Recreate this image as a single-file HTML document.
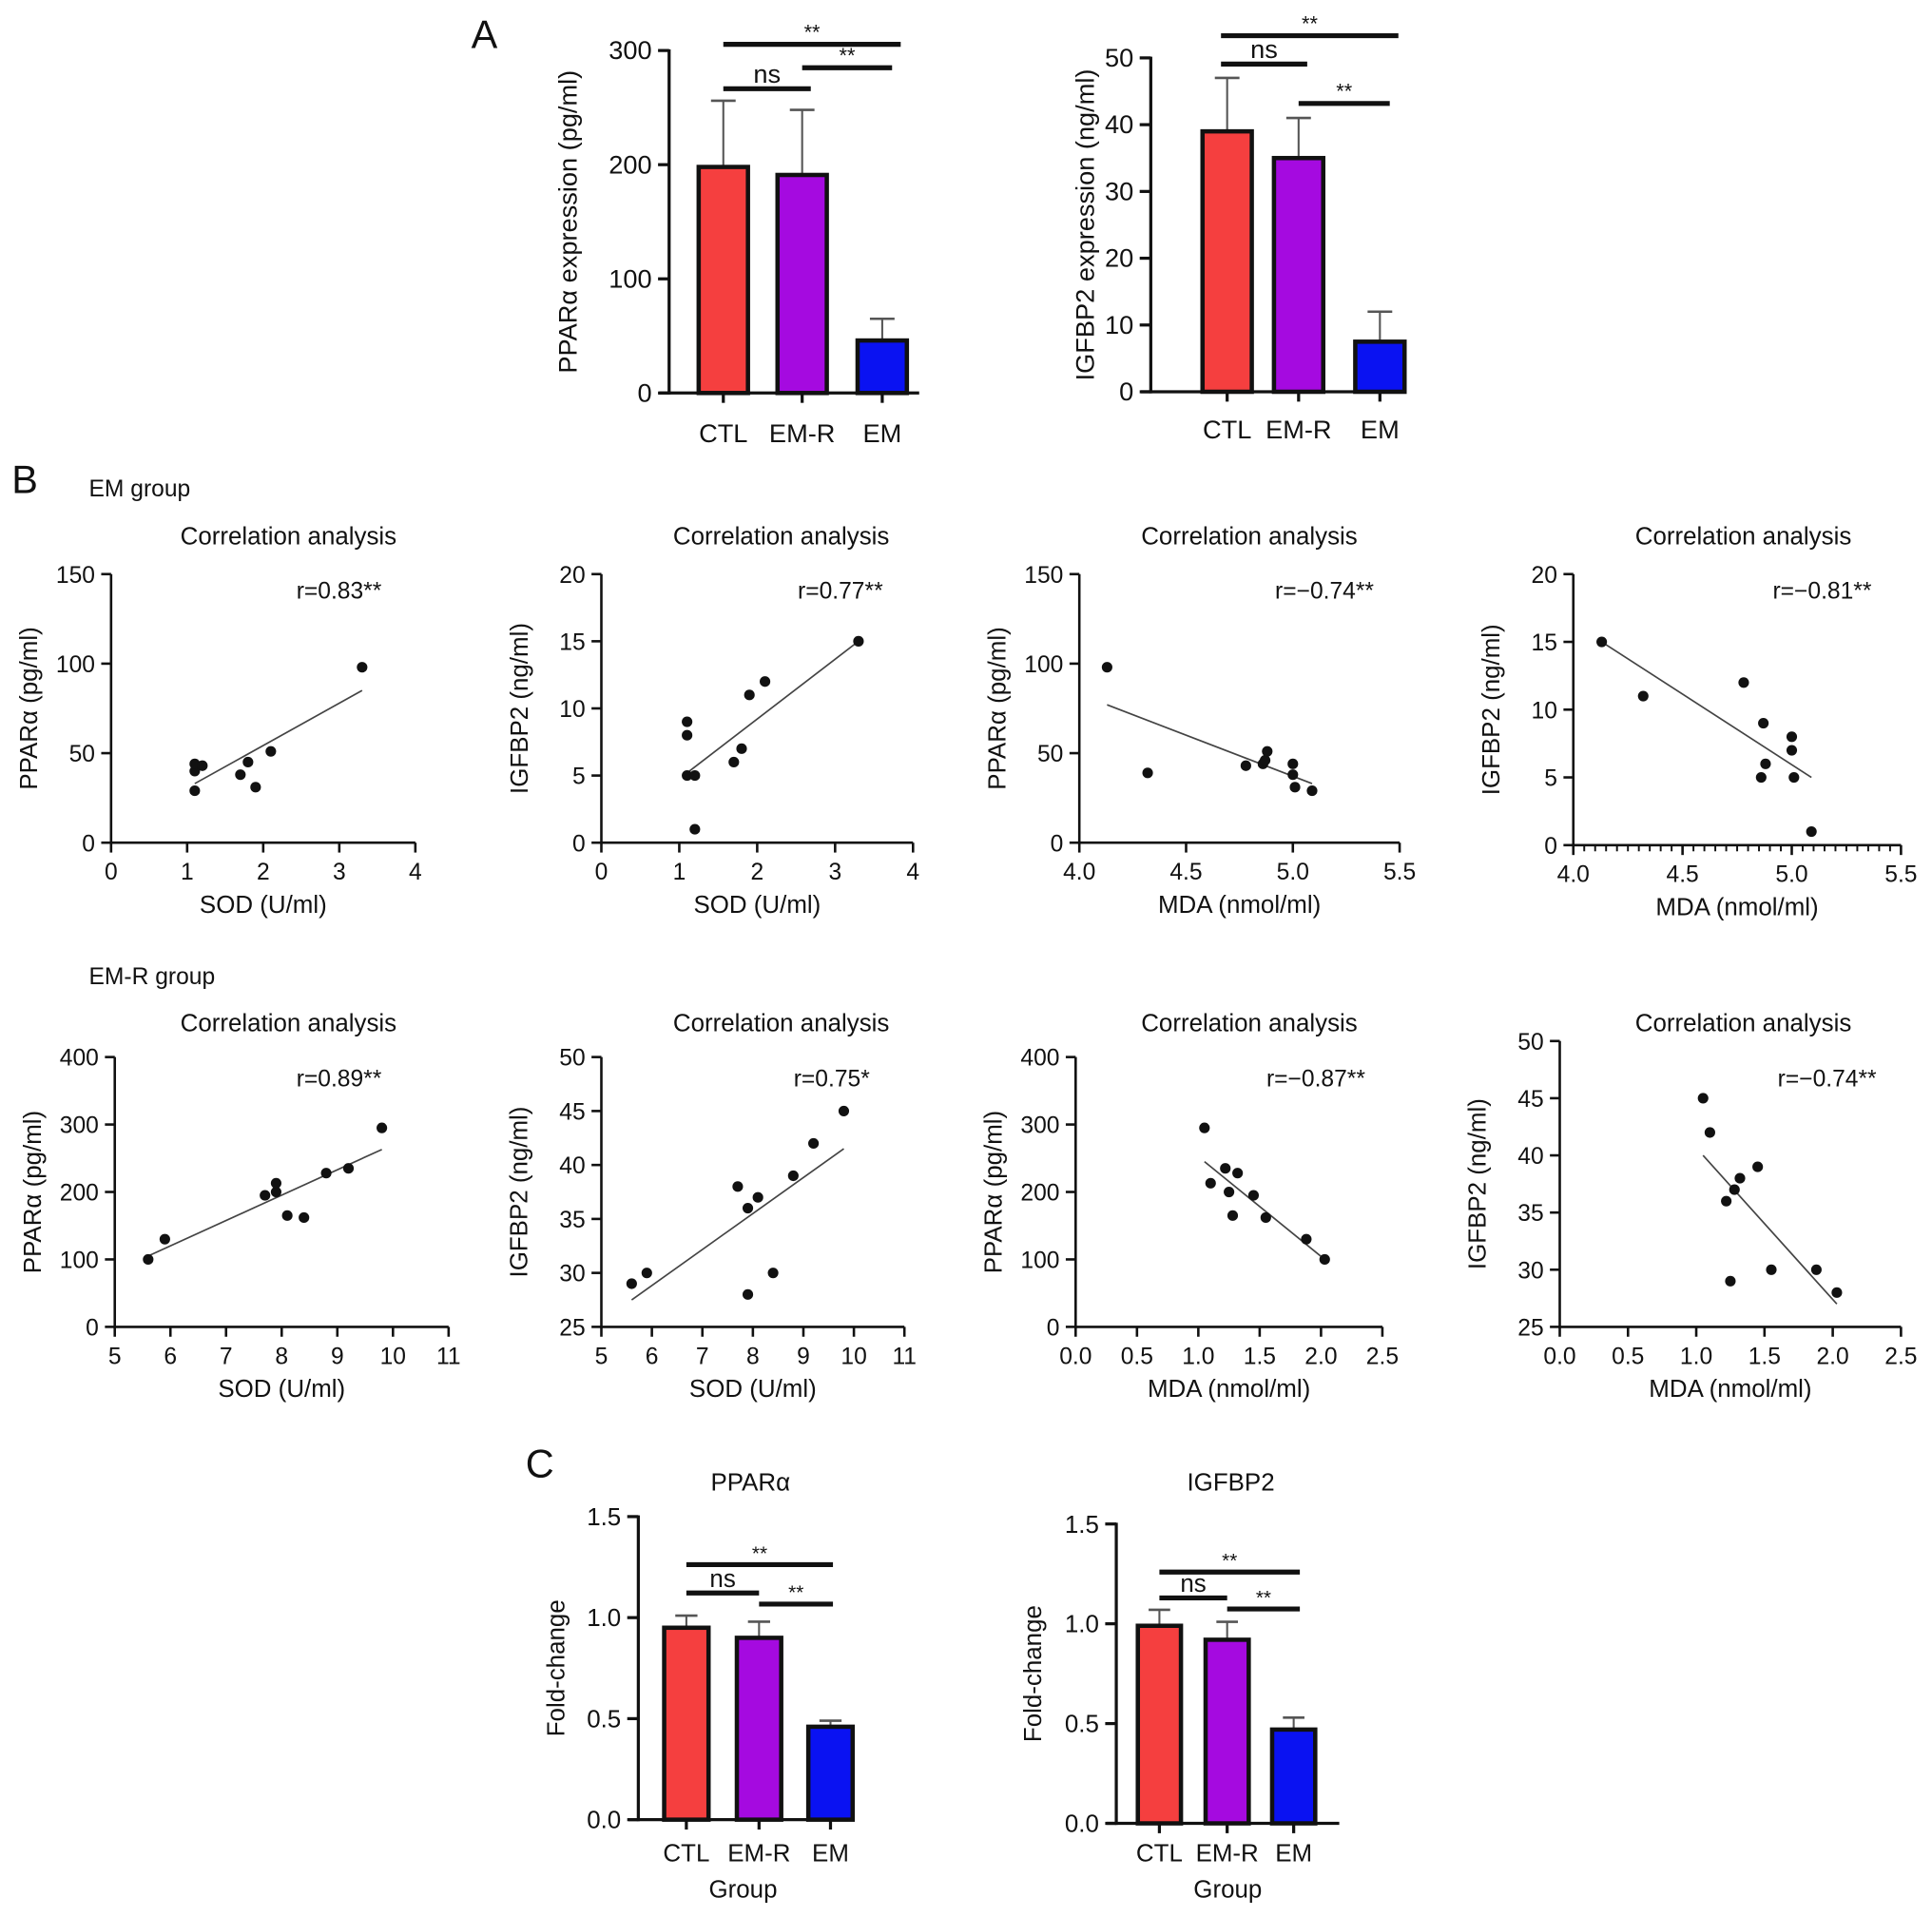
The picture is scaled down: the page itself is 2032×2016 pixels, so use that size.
<!DOCTYPE html>
<html><head><meta charset="utf-8"><style>
html,body{margin:0;padding:0;background:#fff}
svg{display:block}
text{font-family:"Liberation Sans",Arial,sans-serif;fill:#111}
</style></head><body>
<svg id="fig" width="2032" height="2016" viewBox="0 0 1568 1556" xmlns="http://www.w3.org/2000/svg"></svg>
<script>
// ---------- DATA ----------
const barCats = ["CTL","EM-R","EM"];
const barColors = ["#f53f3f","#a50ae0","#0a12f2"];
const aPparMeans = [198,191,46];
const aPparErr = [256,248,65];
const aIgfMeans = [39,35,7.5];
const aIgfErr = [47,41,12];
const cPparMeans = [0.95,0.90,0.46];
const cPparErr = [1.01,0.98,0.49];
const cIgfMeans = [0.99,0.92,0.47];
const cIgfErr = [1.07,1.01,0.53];

const s1x = [1.1,1.1,1.1,1.2,1.7,1.8,1.9,2.1,3.3];
const s1y = [29,40,44,43,38,45,31,51,98];
const s2x = [1.1,1.1,1.1,1.2,1.2,1.7,1.8,1.9,2.1,3.3];
const s2y = [9,8,5,5,1,6,7,11,12,15];
const s3x = [4.13,4.32,4.78,4.86,4.87,4.88,5.0,5.0,5.01,5.09];
const s3y = [98,39,43,44,46,51,44,38,31,29];
const s4x = [4.13,4.32,4.78,4.86,4.87,4.88,5.0,5.0,5.01,5.09];
const s4y = [15,11,12,5,9,6,8,7,5,1];
const s5x = [5.6,5.9,7.7,7.9,7.9,8.1,8.4,8.8,9.2,9.8];
const s5y = [100,130,195,200,213,165,162,228,235,295];
const s6x = [5.6,5.9,7.7,7.9,7.9,8.1,8.4,8.8,9.2,9.8];
const s6y = [29,30,38,36,28,37,30,39,42,45];
const s7x = [1.05,1.1,1.22,1.25,1.28,1.32,1.45,1.55,1.88,2.03];
const s7y = [295,213,235,200,165,228,195,162,130,100];
const s8x = [1.05,1.1,1.22,1.25,1.28,1.32,1.45,1.55,1.88,2.03];
const s8y = [45,42,36,29,37,38,39,30,30,28];
const fitX = [[1.1,3.3],[1.1,3.3],[4.13,5.09],[4.13,5.09],[5.6,9.8],[5.6,9.8],[1.05,2.03],[1.05,2.03]];
const fitY = [[33,85],[5.2,15],[77,33],[15,5],[105,263],[27.5,41.5],[245,100],[40,27]];
const rLabels = ["r=0.83**","r=0.77**","r=−0.74**","r=−0.81**","r=0.89**","r=0.75*","r=−0.87**","r=−0.74**"];

// ---------- HELPERS ----------
const NS="http://www.w3.org/2000/svg";
const svg=document.getElementById('fig');
function el(tag,attrs,parent){const e=document.createElementNS(NS,tag);for(const k in attrs)e.setAttribute(k,attrs[k]);(parent||svg).appendChild(e);return e;}
function txt(x,y,s,size,anchor,parent,rot){const t=el('text',{x:x,y:y,'font-size':size,'text-anchor':anchor||'middle'},parent);if(rot)t.setAttribute('transform','rotate(-90 '+x+' '+y+')');t.textContent=s;return t;}
function lin(x1,y1,x2,y2,w,parent,col){return el('line',{x1:x1,y1:y1,x2:x2,y2:y2,stroke:col||'#111','stroke-width':w},parent);}

function barChart(cfg){
  const g=el('g',{});
  
  
  const sy=v=>cfg.y0+(cfg.y1-cfg.y0)*(v-cfg.vmin)/(cfg.vmax-cfg.vmin);
  cfg.means.forEach((m,i)=>{
    const cx=cfg.centers[i];
    const e=lin(cx,sy(m),cx,sy(cfg.err[i]),1.6,g,'#555');
    
    
    lin(cx-cfg.bw*0.25,sy(cfg.err[i]),cx+cfg.bw*0.25,sy(cfg.err[i]),2,g,'#555');
    const r=el('rect',{x:cx-cfg.bw/2,y:sy(m),width:cfg.bw,height:sy(cfg.vmin)-sy(m),fill:barColors[i],stroke:'#111','stroke-width':3.5},g);
    
    
    const l=txt(cx,cfg.catY,barCats[i],cfg.fs,'middle',g);
    
    
    lin(cx,sy(cfg.vmin),cx,sy(cfg.vmin)+8,2.5,g);
  });
  const ya=lin(cfg.ax,sy(cfg.vmax)-1,cfg.ax,sy(cfg.vmin)+1.2,2.5,g);
  
  const xa=lin(cfg.ax-8,sy(cfg.vmin),cfg.xend,sy(cfg.vmin),2.5,g);
  
  cfg.ticks.forEach((t,i)=>{
    lin(cfg.ax-9,sy(t),cfg.ax,sy(t),2.5,g);
    const l=txt(cfg.ax-14,sy(t)+7,cfg.tickLabels[i],cfg.fs,'end',g);
    
  });
  const yt=txt(cfg.ylx,(sy(cfg.vmin)+sy(cfg.vmax))/2,cfg.ylabel,cfg.fs,'middle',g,true);
  
  cfg.sig.forEach(s=>{
    lin(s[0],s[2],s[1],s[2],4,g);
    const l=txt((s[0]+s[1])/2,s[2]-(s[3]==='ns'?5:4),s[3],s[3]==='ns'?cfg.fs:cfg.fs*0.8,'middle',g);
    
  });
  if(cfg.title){const t=txt(cfg.tx,cfg.ty,cfg.title,cfg.fs,'middle',g);}
  if(cfg.xlabel){const t=txt((cfg.ax+cfg.xend)/2,cfg.xly,cfg.xlabel,cfg.fs,'middle',g);}
}

function scatter(cfg){
  const g=el('g',{});
  
  
  const sx=v=>cfg.x0+(cfg.x1-cfg.x0)*(v-cfg.xmin)/(cfg.xmax-cfg.xmin);
  const sy=v=>cfg.y0+(cfg.y1-cfg.y0)*(v-cfg.ymin)/(cfg.ymax-cfg.ymin);
  const ya=lin(cfg.x0,cfg.y1,cfg.x0,cfg.y0+1,2,g);
  
  const xa=lin(cfg.x0-1,cfg.y0,cfg.x1,cfg.y0,2,g);
  
  cfg.yt.forEach(t=>{lin(cfg.x0-8,sy(t),cfg.x0,sy(t),2,g);
    const l=txt(cfg.x0-13,sy(t)+7,String(t),19,'end',g);});
  cfg.xt.forEach(t=>{lin(sx(t),cfg.y0,sx(t),cfg.y0+8,2,g);
    const l=txt(sx(t),cfg.y0+30,cfg.xfmt?t.toFixed(1):String(t),19,'middle',g);});
  if(cfg.minor){for(let v=cfg.xmin;v<=cfg.xmax+1e-9;v+=cfg.minor)lin(sx(v),cfg.y0,sx(v),cfg.y0+5,1.5,g);}
  const f=lin(sx(cfg.fx[0]),sy(cfg.fy[0]),sx(cfg.fx[1]),sy(cfg.fy[1]),1.3,g,'#444');
  
  cfg.xs.forEach((x,i)=>{const c=el('circle',{cx:sx(x),cy:sy(cfg.ys[i]),r:4.3,fill:'#111'},g);
    });
  const t=txt(cfg.tx,cfg.ty,'Correlation analysis',20,'middle',g);
  const r=txt(cfg.rx,cfg.ry,cfg.r,19,'middle',g);
  const xl=txt((cfg.x0+cfg.x1)/2,cfg.y0+57,cfg.xlabel,20,'middle',g);
  const yl=txt(cfg.x0-60,(cfg.y0+cfg.y1)/2,cfg.ylabel,20,'middle',g,true);
}

// ---------- PANEL A ----------
let t;
t=txt(393,39,'A',32,'middle');
barChart({name:'chart-a-ppara',vmin:0,vmax:300,y0:319,y1:41,ax:543,xend:746,centers:[587,651,716],bw:40,
  means:aPparMeans,err:aPparErr,ticks:[0,100,200,300],tickLabels:['0','100','200','300'],fs:21,catY:359,
  ylx:468,ylabel:'PPARα expression (pg/ml)',sig:[[587,731,36,'**'],[587,658,72,'ns'],[651,724,55,'**']]});
barChart({name:'chart-a-igfbp2',vmin:0,vmax:50,y0:318,y1:47,ax:934,xend:1141,centers:[996,1054,1120],bw:40,
  means:aIgfMeans,err:aIgfErr,ticks:[0,10,20,30,40,50],tickLabels:['0','10','20','30','40','50'],fs:21,catY:356,
  ylx:888,ylabel:'IGFBP2 expression (ng/ml)',sig:[[991,1135,29,'**'],[991,1061,52,'ns'],[1054,1128,84,'**']]});

// ---------- PANEL B ----------
t=txt(20,400,'B',32,'middle');
t=txt(72,403,'EM group',19,'start');
t=txt(72,799,'EM-R group',19,'start');
scatter({name:'scatter-em-sod-ppara',x0:90,x1:337,xmin:0,xmax:4,xt:[0,1,2,3,4],y0:684,y1:466,ymin:0,ymax:150,yt:[0,50,100,150],xs:s1x,ys:s1y,fx:fitX[0],fy:fitY[0],r:rLabels[0],xlabel:'SOD (U/ml)',ylabel:'PPARα (pg/ml)',tx:234,ty:442,rx:275,ry:486});
scatter({name:'scatter-em-sod-igfbp2',x0:488,x1:741,xmin:0,xmax:4,xt:[0,1,2,3,4],y0:684,y1:466,ymin:0,ymax:20,yt:[0,5,10,15,20],xs:s2x,ys:s2y,fx:fitX[1],fy:fitY[1],r:rLabels[1],xlabel:'SOD (U/ml)',ylabel:'IGFBP2 (ng/ml)',tx:634,ty:442,rx:682,ry:486});
scatter({name:'scatter-em-mda-ppara',x0:876,x1:1136,xmin:4,xmax:5.5,xt:[4,4.5,5,5.5],xfmt:1,y0:684,y1:466,ymin:0,ymax:150,yt:[0,50,100,150],xs:s3x,ys:s3y,fx:fitX[2],fy:fitY[2],r:rLabels[2],xlabel:'MDA (nmol/ml)',ylabel:'PPARα (pg/ml)',tx:1014,ty:442,rx:1075,ry:486});
scatter({name:'scatter-em-mda-igfbp2',x0:1277,x1:1543,xmin:4,xmax:5.5,xt:[4,4.5,5,5.5],xfmt:1,minor:0.05,y0:686,y1:466,ymin:0,ymax:20,yt:[0,5,10,15,20],xs:s4x,ys:s4y,fx:fitX[3],fy:fitY[3],r:rLabels[3],xlabel:'MDA (nmol/ml)',ylabel:'IGFBP2 (ng/ml)',tx:1415,ty:442,rx:1479,ry:486});
scatter({name:'scatter-emr-sod-ppara',x0:93,x1:364,xmin:5,xmax:11,xt:[5,6,7,8,9,10,11],y0:1077,y1:858,ymin:0,ymax:400,yt:[0,100,200,300,400],xs:s5x,ys:s5y,fx:fitX[4],fy:fitY[4],r:rLabels[4],xlabel:'SOD (U/ml)',ylabel:'PPARα (pg/ml)',tx:234,ty:837,rx:275,ry:882});
scatter({name:'scatter-emr-sod-igfbp2',x0:488,x1:734,xmin:5,xmax:11,xt:[5,6,7,8,9,10,11],y0:1077,y1:858,ymin:25,ymax:50,yt:[25,30,35,40,45,50],xs:s6x,ys:s6y,fx:fitX[5],fy:fitY[5],r:rLabels[5],xlabel:'SOD (U/ml)',ylabel:'IGFBP2 (ng/ml)',tx:634,ty:837,rx:675,ry:882});
scatter({name:'scatter-emr-mda-ppara',x0:873,x1:1122,xmin:0,xmax:2.5,xt:[0,0.5,1,1.5,2,2.5],xfmt:1,y0:1077,y1:858,ymin:0,ymax:400,yt:[0,100,200,300,400],xs:s7x,ys:s7y,fx:fitX[6],fy:fitY[6],r:rLabels[6],xlabel:'MDA (nmol/ml)',ylabel:'PPARα (pg/ml)',tx:1014,ty:837,rx:1068,ry:882});
scatter({name:'scatter-emr-mda-igfbp2',x0:1266,x1:1543,xmin:0,xmax:2.5,xt:[0,0.5,1,1.5,2,2.5],xfmt:1,y0:1077,y1:845,ymin:25,ymax:50,yt:[25,30,35,40,45,50],xs:s8x,ys:s8y,fx:fitX[7],fy:fitY[7],r:rLabels[7],xlabel:'MDA (nmol/ml)',ylabel:'IGFBP2 (ng/ml)',tx:1415,ty:837,rx:1483,ry:882});

// ---------- PANEL C ----------
t=txt(438,1199,'C',32,'middle');
barChart({name:'chart-c-ppara',vmin:0,vmax:1.5,y0:1477,y1:1231,ax:518,xend:688,centers:[557,616,674],bw:36,
  means:cPparMeans,err:cPparErr,ticks:[0,0.5,1,1.5],tickLabels:['0.0','0.5','1.0','1.5'],fs:20,catY:1511,
  ylx:458,ylabel:'Fold-change',sig:[[557,676,1270,'**'],[557,616,1293,'ns'],[616,676,1302,'**']],
  title:'PPARα',tx:609,ty:1210,xlabel:'Group',xly:1540});
barChart({name:'chart-c-igfbp2',vmin:0,vmax:1.5,y0:1480,y1:1237,ax:906,xend:1087,centers:[941,996,1050],bw:35,
  means:cIgfMeans,err:cIgfErr,ticks:[0,0.5,1,1.5],tickLabels:['0.0','0.5','1.0','1.5'],fs:20,catY:1511,
  ylx:845,ylabel:'Fold-change',sig:[[941,1055,1276,'**'],[941,996,1297,'ns'],[996,1055,1306,'**']],
  title:'IGFBP2',tx:999,ty:1210,xlabel:'Group',xly:1540});
</script>
</body></html>
